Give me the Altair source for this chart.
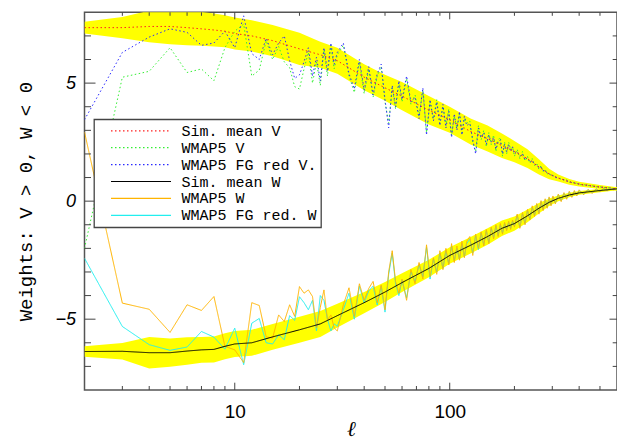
import altair as alt
import pandas as pd

# multipole grid of the WMAP5 curves
ELL = [2, 3, 4, 5, 6, 7, 8, 9, 10, 11, 12, 13, 14, 15, 16, 17, 18, 19, 20, 21, 22, 23, 24, 25, 26, 27, 28, 29, 30,
       32, 34, 36, 38, 40, 42, 44, 46, 48, 50, 52, 54, 56, 58, 60,
       63, 66, 69, 72, 75, 78, 81, 84, 87, 90, 93, 96, 99, 102, 105, 108, 111, 114, 117, 120,
       124, 128, 132, 136, 140, 144, 148, 152, 156, 160, 164, 168, 172, 176, 180, 184, 188, 192, 196, 200,
       206, 212, 218, 224, 230, 236, 242, 248, 254, 260, 266, 272, 278, 284, 290, 296, 302,
       310, 320, 330, 340, 350, 360, 370, 380, 390, 400,
       420, 440, 460, 480, 500, 520, 540, 560, 580, 600]

V_WMAP5 = [-2.0, 5.25, 5.5, 6.5, 5.45, 5.6, 5.1, 6.5, 7.2, 7.5, 5.3, 5.55, 6.8, 6.0, 6.55, 5.9, 5.65, 4.85, 4.75, 5.6, 6.3, 5.0, 5.9, 4.9, 6.4, 5.3, 6.6, 5.6, 6.2,
           6.6, 5.3, 4.6, 5.9, 4.55, 5.6, 4.4, 5.3, 5.7, 4.2, 3.3, 4.8, 3.9, 5.0, 4.2,
           5.2, 4.1, 4.5, 3.6, 4.7, 2.9, 4.2, 3.5, 4.3, 3.3, 4.0, 3.2, 3.9, 2.8, 3.6, 3.1, 3.7, 2.9, 3.5, 3.3,
           3.4, 2.5, 2.1, 3.2, 2.6, 3.0, 2.3, 2.9, 2.4, 2.8, 2.1, 2.6, 2.7, 1.9, 2.5, 2.0, 2.5, 2.2, 2.3, 1.9,
           2.2, 1.8, 2.1, 1.7, 1.9, 1.6, 1.8, 1.5, 1.6, 1.35, 1.5, 1.25, 1.35, 1.15, 1.2, 1.05, 1.1,
           1.05, 0.95, 0.97, 0.88, 0.9, 0.8, 0.83, 0.75, 0.76, 0.7,
           0.7, 0.66, 0.65, 0.61, 0.61, 0.57, 0.58, 0.54, 0.54, 0.52]

V_FGRED = [3.45, 6.3, 6.95, 7.3, 7.15, 6.6, 6.7, 7.2, 6.5, 7.85, 6.25, 6.0, 6.9, 6.2, 6.7, 7.0, 5.95, 5.2, 5.35, 5.9, 6.5, 5.3, 6.1, 5.1, 6.5, 5.5, 6.7, 5.8, 6.3,
           6.7, 5.4, 4.75, 6.0, 4.7, 5.7, 4.5, 5.4, 5.8, 4.3, 3.1, 4.9, 4.0, 5.1, 4.3,
           5.3, 4.2, 4.4, 3.5, 4.8, 2.8, 4.3, 3.4, 4.2, 3.2, 4.1, 3.1, 3.8, 2.7, 3.7, 3.0, 3.8, 2.8, 3.6, 3.2,
           3.3, 2.6, 2.0, 3.1, 2.7, 2.9, 2.4, 2.8, 2.5, 2.7, 2.2, 2.5, 2.6, 2.0, 2.4, 2.1, 2.4, 2.1, 2.3, 2.0,
           2.1, 1.9, 2.0, 1.75, 1.85, 1.65, 1.75, 1.55, 1.55, 1.4, 1.45, 1.3, 1.3, 1.18, 1.17, 1.08, 1.08,
           1.0, 0.99, 0.92, 0.91, 0.85, 0.84, 0.78, 0.78, 0.73, 0.73,
           0.68, 0.68, 0.63, 0.62, 0.59, 0.59, 0.56, 0.56, 0.53, 0.52]

W_WMAP5 = [2.93, -4.32, -4.58, -5.56, -4.39, -4.63, -4.04, -6.15, -6.3, -6.84, -4.3, -4.42, -5.75, -5.8, -4.82, -5.1, -4.39, -4.88, -3.62, -3.9, -3.76, -4.04, -5.37, -4.5, -3.76, -5.03, -4.82, -5.37, -5.5,
           -4.39, -3.67, -4.88, -3.5, -4.2, -3.7, -3.4, -4.3, -3.55, -4.6, -3.0, -2.1, -3.4, -3.9, -3.3,
           -4.2, -2.9, -3.5, -2.6, -3.3, -1.85, -3.2, -2.4, -3.1, -2.1, -2.9, -2.0, -2.7, -1.8, -2.6, -1.9, -2.5, -1.7, -2.4, -1.7,
           -1.5, -2.3, -1.4, -2.0, -1.3, -1.9, -1.2, -1.8, -1.1, -1.6, -1.0, -1.5, -0.95, -1.4, -0.9, -1.25, -0.85, -1.2, -0.8, -1.1,
           -0.55, -1.15, -0.48, -1.0, -0.35, -0.8, -0.2, -0.65, -0.1, -0.55, 0.02, -0.4, 0.1, -0.3, 0.18, -0.2, 0.22,
           -0.12, 0.3, -0.02, 0.36, 0.08, 0.42, 0.16, 0.45, 0.22, 0.48,
           0.27, 0.5, 0.33, 0.53, 0.39, 0.55, 0.44, 0.56, 0.48, 0.55]

W_FGRED = [-2.42, -5.31, -6.08, -6.32, -6.18, -5.52, -5.76, -6.27, -5.38, -6.93, -5.17, -4.97, -6.0, -6.05, -5.66, -5.87, -4.85, -5.05, -4.05, -4.3, -4.6, -4.2, -5.5, -4.0, -4.2, -5.0, -5.5, -5.2, -5.3,
           -4.6, -3.9, -5.0, -3.6, -4.3, -3.8, -3.6, -4.4, -3.6, -4.7, -3.1, -2.2, -3.5, -4.0, -3.35,
           -4.1, -3.0, -3.4, -2.7, -3.2, -1.95, -3.3, -2.45, -3.0, -2.2, -2.85, -2.1, -2.65, -1.9, -2.5, -2.0, -2.45, -1.8, -2.35, -1.8,
           -1.6, -2.2, -1.45, -2.05, -1.35, -1.85, -1.25, -1.75, -1.15, -1.55, -1.05, -1.45, -1.0, -1.35, -0.95, -1.2, -0.9, -1.15, -0.85, -1.05,
           -0.6, -1.1, -0.52, -0.95, -0.4, -0.75, -0.25, -0.6, -0.14, -0.5, -0.02, -0.36, 0.06, -0.26, 0.14, -0.16, 0.18,
           -0.08, 0.27, 0.02, 0.33, 0.12, 0.39, 0.19, 0.42, 0.25, 0.45,
           0.3, 0.48, 0.36, 0.51, 0.41, 0.53, 0.46, 0.55, 0.49, 0.54]

# simulation mean and spread
ELL_SIM = [2, 3, 4, 5, 6, 7, 8, 9, 10, 12, 15, 20, 25, 30, 40, 50, 60, 80, 100, 125, 150, 175, 200,
           230, 260, 290, 320, 360, 400, 500, 600]
V_MEAN = [7.35, 7.35, 7.4, 7.4, 7.35, 7.3, 7.25, 7.2, 7.1, 7.0, 6.8, 6.45, 6.2, 5.95, 5.25, 4.8, 4.45, 3.85, 3.45,
          2.95, 2.65, 2.35, 2.1, 1.8, 1.45, 1.15, 0.98, 0.82, 0.72, 0.6, 0.52]
V_HI = [7.6, 7.8, 8.07, 8.15, 8.1, 8.02, 7.95, 7.88, 7.78, 7.66, 7.46, 7.13, 6.75, 6.5, 5.8, 5.35, 5.05, 4.45, 4.0,
        3.5, 3.2, 2.87, 2.55, 2.2, 1.77, 1.37, 1.13, 0.94, 0.82, 0.68, 0.59]
V_LO = [7.1, 6.9, 6.73, 6.65, 6.6, 6.58, 6.55, 6.52, 6.42, 6.34, 6.14, 5.77, 5.65, 5.4, 4.7, 4.25, 3.85, 3.25, 2.9,
        2.4, 2.1, 1.83, 1.65, 1.4, 1.13, 0.93, 0.83, 0.7, 0.62, 0.52, 0.45]
W_MEAN = [-6.37, -6.36, -6.42, -6.42, -6.35, -6.3, -6.28, -6.15, -6.05, -6.0, -5.75, -5.45, -5.2, -4.85, -4.3, -3.85,
          -3.45, -2.85, -2.3, -1.87, -1.5, -1.15, -0.95, -0.62, -0.3, -0.05, 0.12, 0.26, 0.35, 0.45, 0.52]
W_HI = [-6.15, -6.01, -5.75, -5.82, -5.77, -5.75, -5.73, -5.6, -5.5, -5.45, -5.2, -4.9, -4.65, -4.35, -3.85, -3.43,
        -3.05, -2.48, -1.95, -1.52, -1.15, -0.82, -0.65, -0.35, -0.08, 0.11, 0.24, 0.36, 0.43, 0.52, 0.58]
W_LO = [-6.59, -6.71, -7.09, -7.02, -6.93, -6.85, -6.83, -6.7, -6.6, -6.55, -6.3, -6.0, -5.75, -5.35, -4.75, -4.27,
        -3.85, -3.22, -2.65, -2.22, -1.85, -1.48, -1.25, -0.89, -0.52, -0.21, 0.0, 0.16, 0.27, 0.38, 0.46]

SERIES = ["Sim. mean V", "WMAP5 V", "WMAP5 FG red V.", "Sim. mean W", "WMAP5 W", "WMAP5 FG red. W"]
COLORS = ["#ff2020", "#33ee33", "#2a2aff", "#000000", "#ffb400", "#22eeee"]
DASHES = [[1.5, 2.5], [1.5, 2.5], [1.5, 2.5], [1, 0], [1, 0], [1, 0]]

X_MAJOR = [10, 100]
X_MINOR = [3, 4, 5, 6, 7, 8, 9, 20, 30, 40, 50, 60, 70, 80, 90, 200, 300, 400, 500]
Y_MAJOR = [-5, 0, 5]
Y_MINOR = [-7, -6, -4, -3, -2, -1, 1, 2, 3, 4, 6, 7]

W = 532.5
H = 377.7
YTITLE = "Weights: V > 0, W < 0"
XTITLE = "\u2113"

xscale = alt.Scale(type="log", domain=[2, 600], nice=False)
yscale = alt.Scale(domain=[-8, 8], nice=False)

XAXIS = alt.Axis(values=X_MAJOR, format="d", ticks=False, domain=False, grid=False,
                 labelFont="Liberation Sans", labelFontSize=19, labelColor="black", labelPadding=12,
                 titleFont="DejaVu Serif", titleFontStyle="italic", titleFontWeight="normal",
                 titleFontSize=21, titleColor="black", titleY=45, titleBaseline="alphabetic")
YAXIS = alt.Axis(values=Y_MAJOR, ticks=False, domain=False, grid=False,
                 labelFont="Liberation Sans", labelFontStyle="italic", labelFontSize=18,
                 labelColor="black", labelPadding=9,
                 titleFont="Liberation Mono", titleFontWeight="normal", titleFontSize=19,
                 titleColor="black", titleX=-49, titleY=H / 2, titleBaseline="bottom")


def xenc(field="ell"):
    return alt.X(field + ":Q", scale=xscale, title=XTITLE, axis=XAXIS)


def yenc(field="value"):
    return alt.Y(field + ":Q", scale=yscale, title=YTITLE, axis=YAXIS)


legend_kw = dict(orient="none", legendX=9.5, legendY=107, title=None,
                 symbolType="M-6,0H6", symbolSize=100, symbolStrokeWidth=1.2,
                 symbolOffset=35.5, labelOffset=33, labelFont="Liberation Mono", labelFontSize=15,
                 labelColor="black", padding=4, rowPadding=0.9, strokeColor="#444", fillColor="white")
COLOR = alt.Color("series:N", scale=alt.Scale(domain=SERIES, range=COLORS), legend=alt.Legend(**legend_kw))
DASH = alt.StrokeDash("series:N", scale=alt.Scale(domain=SERIES, range=DASHES), legend=alt.Legend(**legend_kw))

sim = pd.DataFrame({"ell": ELL_SIM, "vlo": V_LO, "vhi": V_HI, "wlo": W_LO, "whi": W_HI})

band_v = alt.Chart(sim).mark_area(color="#ffff00", opacity=1, clip=True).encode(
    x=xenc(), y=yenc("vlo"), y2="vhi:Q")
band_w = alt.Chart(sim).mark_area(color="#ffff00", opacity=1, clip=True).encode(
    x=xenc(), y=yenc("wlo"), y2="whi:Q")


def line(ells, vals, name):
    df = pd.DataFrame({"ell": ells, "value": vals, "series": name})
    return alt.Chart(df).mark_line(strokeWidth=1, clip=True).encode(
        x=xenc(), y=yenc(), color=COLOR, strokeDash=DASH)


lines = [
    line(ELL, V_WMAP5, "WMAP5 V"),
    line(ELL, V_FGRED, "WMAP5 FG red V."),
    line(ELL_SIM, V_MEAN, "Sim. mean V"),
    line(ELL, W_FGRED, "WMAP5 FG red. W"),
    line(ELL, W_WMAP5, "WMAP5 W"),
    line(ELL_SIM, W_MEAN, "Sim. mean W"),
]

TC = "#444"


def yticks(vals, x0, x1):
    return alt.Chart(pd.DataFrame({"value": vals})).mark_rule(color=TC, strokeWidth=1).encode(
        y=yenc(), x=alt.value(x0), x2=alt.value(x1))


def xticks(vals, y0, y1):
    return alt.Chart(pd.DataFrame({"ell": vals})).mark_rule(color=TC, strokeWidth=1).encode(
        x=xenc(), y=alt.value(y0), y2=alt.value(y1))


ticks = [
    yticks(Y_MAJOR, 0, 11), yticks(Y_MINOR, 0, 6.5),
    yticks(Y_MAJOR, W, W - 7.5), yticks(Y_MINOR, W, W - 4.3),
    xticks(X_MAJOR, H, H - 7.3), xticks(X_MINOR, H, H - 4),
    xticks(X_MAJOR, 0, 7), xticks(X_MINOR, 0, 3.5),
]

chart = alt.layer(band_v, band_w, *lines, *ticks).properties(
    width=W, height=H,
    autosize=alt.AutoSizeParams(type="none"),
    padding={"left": 76.5, "top": 4.3, "right": 0, "bottom": 53},
).configure_view(stroke="#555", strokeWidth=1.5).configure_legend(strokeWidth=1.3)

chart.save("out.html", embed_options={"renderer": "svg", "actions": False})
